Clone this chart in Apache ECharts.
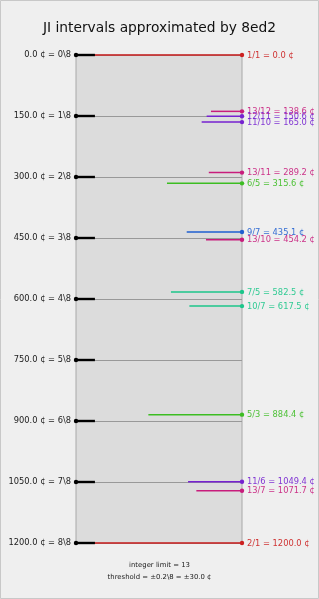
<!DOCTYPE html>
<html><head><meta charset="utf-8">
<script src="https://cdn.jsdelivr.net/npm/echarts@6/dist/echarts.min.js"></script>
<style>html,body{margin:0;padding:0;background:#efefef}#c{width:319px;height:599px}</style>
</head><body><div id="c"></div>
<script>
const titleText = 'JI intervals approximated by 8ed2';
const stepCents = [0, 150, 300, 450, 600, 750, 900, 1050, 1200];
const tickLabels = ['0.0 ¢ = 0\\8', '150.0 ¢ = 1\\8', '300.0 ¢ = 2\\8', '450.0 ¢ = 3\\8', '600.0 ¢ = 4\\8', '750.0 ¢ = 5\\8', '900.0 ¢ = 6\\8', '1050.0 ¢ = 7\\8', '1200.0 ¢ = 8\\8'];
const stepMarkLength = 0.114;
const jiRatios = ['1/1', '13/12', '12/11', '11/10', '13/11', '6/5', '9/7', '13/10', '7/5', '10/7', '5/3', '11/6', '13/7', '2/1'];
const jiCents = [0.0, 138.6, 150.6, 165.0, 289.2, 315.6, 435.1, 454.2, 582.5, 617.5, 884.4, 1049.4, 1071.7, 1200.0];
const jiLengths = [1, 0.187, 0.213, 0.243, 0.2, 0.452, 0.333, 0.217, 0.428, 0.317, 0.564, 0.325, 0.275, 1];
const jiLimit = [1, 13, 11, 11, 13, 5, 9, 13, 7, 7, 5, 11, 13, 1];
const footLines = ['integer limit = 13', 'threshold = ±0.2\\8 = ±30.0 ¢'];

const limitColors = {1: '#cc2020', 5: '#3cbd22', 7: '#1cc68a', 9: '#1f5fd0', 11: '#7622d0', 13: '#c81c7c'};
const FONT = 'DejaVu Sans';

const chart = echarts.init(document.getElementById('c'), null, {renderer: 'canvas'});
chart.setOption({
  backgroundColor: '#efefef',
  animation: false,
  title: {text: titleText, left: 'center', top: 16,
    textStyle: {fontFamily: FONT, fontSize: 13.8, fontWeight: 'normal', color: '#111'}},
  grid: {left: 76, right: 77, top: 55, bottom: 56, show: true, backgroundColor: '#dcdcdc', borderColor: '#a8a8a8', borderWidth: 1},
  xAxis: {type: 'value', min: 0, max: 1, show: false},
  yAxis: {type: 'value', min: 0, max: 1200, interval: 150, inverse: true,
    axisLine: {show: false}, axisTick: {show: false},
    splitLine: {show: true, lineStyle: {color: '#999', width: 1}},
    axisLabel: {margin: 5, fontFamily: FONT, fontSize: 8.3, color: '#222',
      formatter: v => tickLabels[stepCents.indexOf(v)] || ''}},
  graphic: [
    {type: 'rect', shape: {x: 0.5, y: 0.5, width: 318, height: 598}, style: {fill: 'none', stroke: '#c8c8c8', lineWidth: 1}, z: 100},
    {type: 'text', left: 'center', top: 561.5, style: {text: footLines[0], font: '6.9px ' + FONT, fill: '#222'}},
    {type: 'text', left: 'center', top: 573.5, style: {text: footLines[1], font: '6.9px ' + FONT, fill: '#222'}}
  ],
  series: [
    {
      type: 'custom', z: 3,
      data: jiCents.map((c, i) => [c, jiLengths[i], jiLimit[i]]),
      renderItem: (params, api) => {
        const c = api.value(0), len = api.value(1);
        const col = limitColors[api.value(2)];
        const i = params.dataIndex;
        const p1 = api.coord([1 - len, c]);
        const p2 = api.coord([1, c]);
        return {type: 'group', children: [
          {type: 'line', shape: {x1: p1[0], y1: p1[1], x2: p2[0], y2: p2[1]}, style: {stroke: col, lineWidth: 1.5}},
          {type: 'circle', shape: {cx: p2[0], cy: p2[1], r: 2.2}, style: {fill: col}},
          {type: 'text', style: {text: jiRatios[i] + ' = ' + c.toFixed(1) + ' ¢', x: p2[0] + 5, y: p2[1] + 0.5,
            verticalAlign: 'middle', align: 'left', fill: col, font: '8.3px ' + FONT, opacity: 0.9}}
        ]};
      }
    },
    {
      type: 'custom', z: 4,
      data: stepCents.map(c => [c]),
      renderItem: (params, api) => {
        const c = api.value(0);
        const p1 = api.coord([0, c]);
        const p2 = api.coord([stepMarkLength, c]);
        return {type: 'group', children: [
          {type: 'line', shape: {x1: p1[0], y1: p1[1], x2: p2[0], y2: p2[1]}, style: {stroke: '#000', lineWidth: 2.4}},
          {type: 'circle', shape: {cx: p1[0], cy: p1[1], r: 2.2}, style: {fill: '#000'}}
        ]};
      }
    }
  ]
});
</script></body></html>
